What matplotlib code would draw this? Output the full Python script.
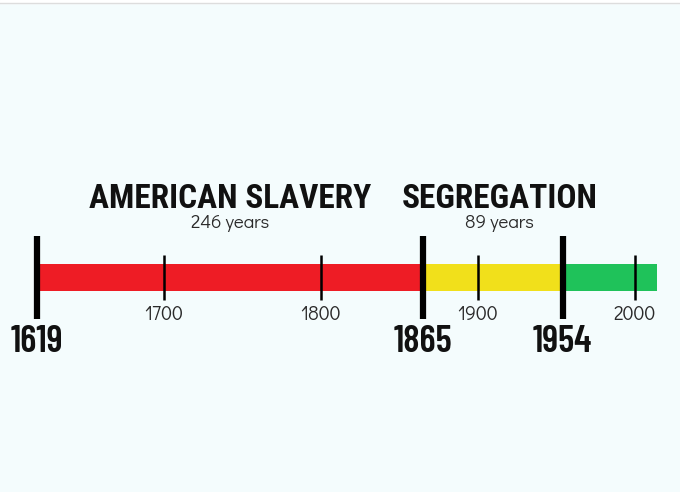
import matplotlib.pyplot as plt
from matplotlib.transforms import offset_copy

# periods on the timeline
period_start = [1619, 1865, 1954]
period_end = [1865, 1954, 2014]
period_colors = ["#ee1c25", "#f1e01b", "#1fc25a"]

# titled periods
period_titles = ["AMERICAN SLAVERY", "SEGREGATION"]

# marks
milestones = [1619, 1865, 1954]
century_ticks = [1700, 1800, 1900, 2000]

bg = "#f4fcfd"
bold_font = ["Roboto Condensed", "DejaVu Sans"]
year_font = ["Barlow Condensed", "DejaVu Sans"]
thin_font = ["Didact Gothic", "DejaVu Sans"]

fig = plt.figure(figsize=(6.8, 4.92), dpi=100, facecolor=bg)
ax = fig.add_axes([0, 0, 1, 1], facecolor=bg)
# pixel based frame: 1.57 px per year, 1700 at x=164
px_per_year = 1.57
ax.set_xlim(1700 - 164 / px_per_year, 1700 + (680 - 164) / px_per_year)
ax.set_ylim(492, 0)
ax.axis("off")

# faint top border like the screenshot
ax.axhline(3, color="#dddddd", linewidth=1)
ax.axhspan(0, 3, color="white")

# coloured bar
for s, e, c in zip(period_start, period_end, period_colors):
    ax.fill_between([s, e], 264, 291, color=c, linewidth=0)

# century ticks + labels
for t in century_ticks:
    ax.plot([t, t], [255, 300], color="black", linewidth=1.8, solid_capstyle="butt")
    ax.text(t, 313, str(t), ha="center", va="center_baseline", fontsize=14,
            family=thin_font, color="#2a2a2a")

# milestone markers + labels
for m in milestones:
    ax.plot([m, m], [236, 319], color="black", linewidth=4.5, solid_capstyle="butt")
    ax.text(m, 338, str(m), ha="center", va="center_baseline", fontsize=27,
            family=year_font, weight=600, color="#111111")

# period titles and durations (segregation label sits a little right of centre)
title_shift = [0, 5]
for i, title in enumerate(period_titles):
    s, e = period_start[i], period_end[i]
    mid = (s + e) / 2
    tr = offset_copy(ax.transData, fig=fig, x=title_shift[i], y=0, units="points")
    ax.text(mid, 196, title, ha="center", va="center_baseline", fontsize=24,
            family=bold_font, weight="bold", color="#111111", transform=tr)
    ax.text(mid, 221, f"{e - s} years", ha="center", va="center_baseline", fontsize=13.5,
            family=thin_font, color="#2a2a2a", transform=tr)

fig.savefig("out.png", dpi=100, facecolor=bg)
